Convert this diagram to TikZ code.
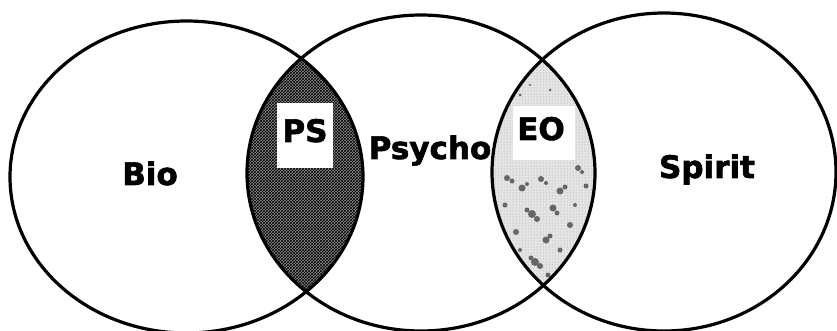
\documentclass[tikz,border=0pt]{standalone}
\usepackage{fontspec}
\setmainfont{DejaVu Sans}[BoldFeatures={FakeBold=2}]
\usetikzlibrary{patterns}
\begin{document}
\begin{tikzpicture}[x=1pt,y=-1pt,
  lbl/.style={font=\fontsize{31}{33}\selectfont\bfseries, inner sep=0pt, anchor=base},
  ring/.style={line width=3.2pt, draw=black},
  blot/.style={fill=black!60}]
\useasboundingbox (0,0) rectangle (837,331);
\clip (0,0) rectangle (837,331);
\fill[white] (0,0) rectangle (837,331);
% PS lens (Bio & Psycho)
\begin{scope}
  \clip (186.5,177) ellipse [x radius=176.5, y radius=156];
  \fill[black!45] (421,173) ellipse [x radius=174, y radius=158];
  \fill[pattern=crosshatch, pattern color=black] (421,173) ellipse [x radius=174, y radius=158];
  \fill[white] (277,103) rectangle (333,168);
\end{scope}
% EO lens (Psycho & Spirit)
\begin{scope}
  \clip (664,172) ellipse [x radius=172, y radius=159];
  \fill[black!10] (421,173) ellipse [x radius=174, y radius=158];
  \fill[pattern=dots, pattern color=black!40] (421,173) ellipse [x radius=174, y radius=158];
  \fill[white] (513,106) rectangle (575,160);
  \foreach \p/\r in {(507,178)/3,(512,181)/2.5,(522,188)/3.5,(527,184)/2,(541,179)/3,(546,183)/2,
      (560,191)/3.5,(565,187)/2.5,(578,168)/3,(582,172)/2,(532,214)/4,(537,219)/3,(527,210)/2.5,
      (553,208)/3.5,(557,213)/2.5,(516,232)/3,(546,240)/3.5,(550,236)/2.5,(535,262)/4,(540,266)/3,
      (531,258)/2.5,(570,225)/3,(505,205)/2.5,(586,186)/2.5,(560,250)/2.5,(575,205)/2,(520,250)/2,
      (548,275)/2.5,(545,130)/0,(520,95)/1.5,(550,90)/1.5,(530,85)/1.2}
    \fill[blot] \p circle (\r);
\end{scope}
% rings
\draw[ring] (186.5,177) ellipse [x radius=176.5, y radius=156];
\draw[ring] (421,173) ellipse [x radius=174, y radius=158];
\draw[ring] (664,172) ellipse [x radius=172, y radius=159];
% labels
\node[lbl] (bio) at (150,185) {Bio};
\node[lbl] (psycho) at (430,159) {Psycho};
\node[lbl] (spirit) at (707,178) {Spirit};
\node[lbl] (ps) at (305,142) {PS};
\node[lbl] (eo) at (541,140) {EO};
\end{tikzpicture}
\end{document}
